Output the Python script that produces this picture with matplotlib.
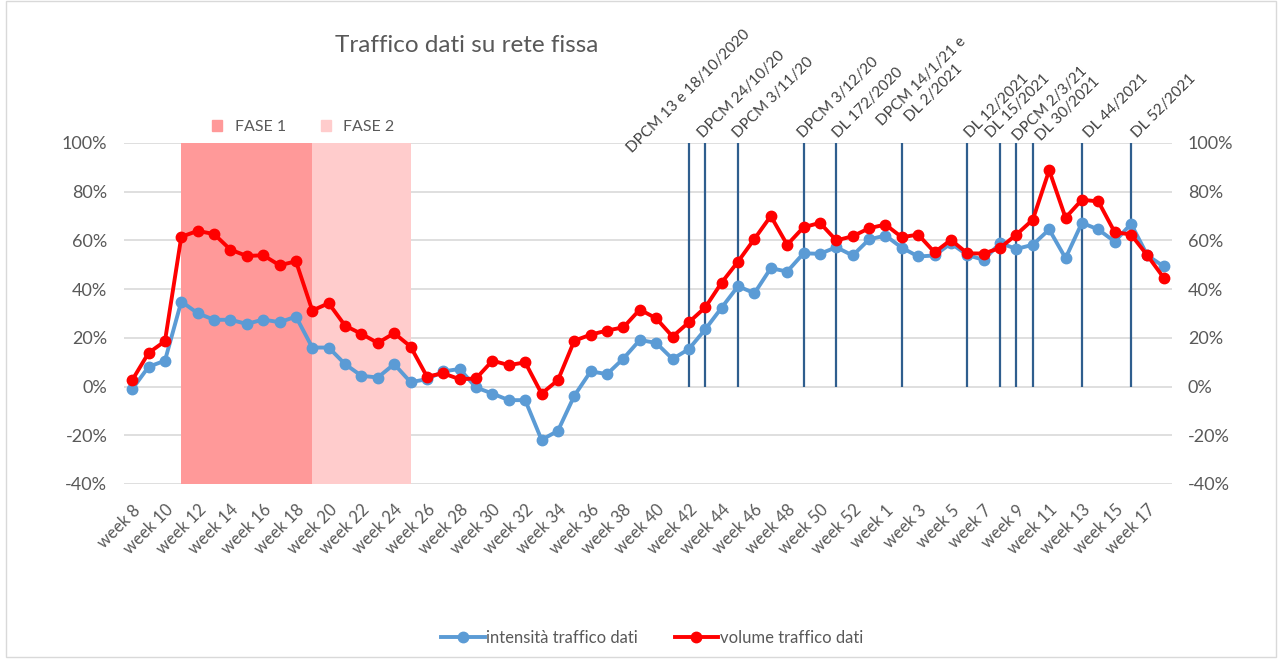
import matplotlib
matplotlib.use("Agg")
import matplotlib.pyplot as plt
from matplotlib.lines import Line2D
from matplotlib.patches import Patch, Rectangle

plt.rcParams["font.family"] = ["Lato", "DejaVu Sans"]

weeks_2020 = list(range(8, 54))
weeks_2021 = list(range(1, 19))
week_labels = [f"week {w}" for w in weeks_2020 + weeks_2021]

intensita = [
    -1.1, 8.1, 10.6, 34.9, 30.1, 27.4, 27.4, 25.7, 27.5, 26.4, 28.7, 16.0,
    16.0, 9.2, 4.4, 3.7, 9.2, 1.8, 3.0, 6.2, 7.2, -0.4, -2.9, -5.6, -5.6,
    -21.9, -18.2, -3.8, 6.2, 5.1, 11.5, 19.1, 17.9, 11.3, 15.4, 23.5, 32.4,
    41.2, 38.3, 48.6, 47.2, 54.7, 54.5, 57.2, 53.8, 60.4,
    62.0, 57.0, 53.4, 53.8, 58.8, 54.0, 52.0, 58.9, 56.5, 58.2, 64.5, 52.7,
    67.2, 64.5, 59.5, 66.8, 53.8, 49.3,
]
volume = [
    2.6, 13.8, 18.6, 61.5, 63.9, 62.6, 56.2, 53.6, 53.9, 49.8, 51.4, 31.2,
    34.2, 25.0, 21.6, 17.9, 21.9, 16.4, 4.1, 5.4, 3.0, 3.3, 10.6, 8.8, 9.9,
    -2.9, 2.6, 18.8, 21.3, 23.0, 24.3, 31.6, 28.0, 20.5, 26.4, 32.5, 42.7,
    51.3, 60.6, 70.0, 58.2, 65.4, 67.2, 60.0, 61.7, 65.0,
    66.5, 61.3, 62.4, 55.1, 60.2, 54.7, 54.6, 56.9, 62.4, 68.5, 88.8, 69.3,
    76.7, 76.0, 63.4, 62.4, 53.8, 44.6,
]

# lockdown phases: (label, first week index, last week index)
fasi = [("FASE 1", 3, 11), ("FASE 2", 11, 17)]
fasi_colors = ["#FF9999", "#FFCCCC"]

# decrees: index of the week they fall in
decreti_idx = [34, 35, 37, 41, 43, 47, 51, 53, 54, 55, 58, 61]
decreti = [
    "DPCM 13 e 18/10/2020", "DPCM 24/10/20", "DPCM 3/11/20", "DPCM 3/12/20",
    "DL 172/2020", "DPCM 14/1/21 e\nDL 2/2021", "DL 12/2021", "DL 15/2021",
    "DPCM 2/3/21", "DL 30/2021", "DL 44/2021", "DL 52/2021",
]
# label nudges in points, so crowded labels do not overlap
label_offsets = [(-39, -9), (0, 2), (2, 2), (1.5, 2), (3, 2), (-4, 2),
                 (3.5, 2), (-5, 2), (3, 0), (8, 0), (7, 2), (6, 2)]

x = list(range(len(week_labels)))
grey = "#595959"

fig = plt.figure(figsize=(12.81, 6.62), dpi=100)
ax = fig.add_axes([0.0968, 0.269, 0.8181, 0.515])

for (name, start, end), color in zip(fasi, fasi_colors):
    ax.axvspan(start, end, color=color, lw=0, zorder=1)

ax.vlines(decreti_idx, 0, 100, color="#2F5E8E", lw=1.6, zorder=2)

ax.plot(x, intensita, color="#5B9BD5", lw=2.8, marker="o", ms=7.5, zorder=3)
ax.plot(x, volume, color="#FF0000", lw=2.8, marker="o", ms=7.5, zorder=4)

ax.set_xlim(-0.5, len(x) - 0.5)
ax.set_ylim(-40, 100)
yticks = list(range(-40, 101, 20))
ax.set_yticks(yticks)
ax.set_yticklabels([f"{t}%" for t in yticks])
ax.grid(axis="y", color="#D9D9D9", lw=1.2, zorder=0)
ax.set_axisbelow(True)
for s in ax.spines.values():
    s.set_visible(False)
ax.tick_params(axis="y", length=0, pad=12, labelsize=13, labelcolor=grey)

ax.set_xticks(x[::2])
ax.set_xticklabels(week_labels[::2], rotation=45, ha="right",
                   rotation_mode="anchor", fontsize=12, color=grey)
ax.tick_params(axis="x", length=0, pad=13)

ax2 = ax.twinx()
ax2.set_ylim(-40, 100)
ax2.set_yticks(yticks)
ax2.set_yticklabels([f"{t}%" for t in yticks])
for s in ax2.spines.values():
    s.set_visible(False)
ax2.tick_params(axis="y", length=0, pad=11.5, labelsize=13, labelcolor=grey)

# decree labels above the plot
for idx, txt, offset in zip(decreti_idx, decreti, label_offsets):
    ax.annotate(txt, xy=(idx, 100), xytext=offset,
                textcoords="offset points", rotation=45,
                rotation_mode="anchor", ha="left", va="bottom",
                multialignment="center", fontsize=11, color="#404040",
                annotation_clip=False, linespacing=1.3)

fig.text(0.364, 0.932, "Traffico dati su rete fissa", ha="center",
         va="center", fontsize=17.5, color=grey)

fase_handles = [Patch(color=c) for c in fasi_colors]
fig.legend(fase_handles, [f[0] for f in fasi], loc="center",
           bbox_to_anchor=(0.237, 0.808), ncol=2, frameon=False,
           handlelength=0.6, handleheight=0.6, handletextpad=0.8,
           columnspacing=2.2, fontsize=11.5, labelcolor=grey)

line_handles = [
    Line2D([], [], color="#5B9BD5", lw=2.8, marker="o", ms=7.5),
    Line2D([], [], color="#FF0000", lw=2.8, marker="o", ms=7.5),
]
fig.legend(line_handles, ["intensità traffico dati", "volume traffico dati"],
           loc="center", bbox_to_anchor=(0.509, 0.036), ncol=2,
           frameon=False, handlelength=2.6, handletextpad=0.1,
           columnspacing=2.2, fontsize=12, labelcolor=grey)

fig.patches.append(Rectangle((0.005, 0.008), 0.991, 0.99,
                             transform=fig.transFigure, fill=False,
                             edgecolor="#D9D9D9", lw=1))

fig.savefig("out.png", dpi=100)
plt.close(fig)
